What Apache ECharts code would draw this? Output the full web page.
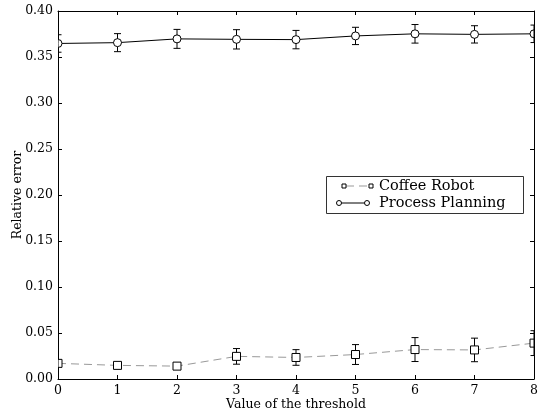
<!DOCTYPE html>
<html>
<head>
<meta charset="utf-8">
<script src="https://cdn.jsdelivr.net/npm/echarts@6/dist/echarts.min.js"></script>
<style>html,body{margin:0;padding:0;background:#fff;}#c{width:541px;height:414px;}</style>
</head>
<body>
<div id="c"></div>
<script>
var thresholds = [0, 1, 2, 3, 4, 5, 6, 7, 8];
var coffeeValues = [0.0170, 0.0148, 0.0140, 0.0246, 0.0234, 0.0266, 0.0320, 0.0316, 0.0390];
var coffeeErrors = [0.0010, 0.0010, 0.0010, 0.0085, 0.0085, 0.0108, 0.0130, 0.0128, 0.0135];
var processValues = [0.3647, 0.3656, 0.3697, 0.3692, 0.3689, 0.3729, 0.3752, 0.3746, 0.3752];
var processErrors = [0.0095, 0.0098, 0.0103, 0.0105, 0.0100, 0.0094, 0.0101, 0.0094, 0.0095];
var seriesNames = ['Coffee Robot', 'Process Planning'];
var yTicks = [0, 0.05, 0.10, 0.15, 0.20, 0.25, 0.30, 0.35, 0.40];

var FONT = 'DejaVu Serif';
var chart = echarts.init(document.getElementById('c'), null, {renderer: 'canvas'});

function pairs(vals) { return thresholds.map(function (x, i) { return [x, vals[i]]; }); }
function triples(vals, errs) { return thresholds.map(function (x, i) { return [x, vals[i], errs[i]]; }); }

function makeRender(shape) {
  return function (params, api) {
    var cs = params.coordSys;
    var L = cs.x, R = cs.x + cs.width;
    var x = api.value(0), v = api.value(1), e = api.value(2);
    var c = api.coord([x, v]);
    var lo = api.coord([x, v - e]);
    var hi = api.coord([x, v + e]);
    var cap = 3.5, s = 4;
    var stroke = {stroke: '#000', lineWidth: 1};
    var cl = Math.max(L, c[0] - cap), cr = Math.min(R, c[0] + cap);
    var children = [
      {type: 'line', shape: {x1: c[0], y1: lo[1], x2: c[0], y2: hi[1]}, style: stroke},
      {type: 'line', shape: {x1: cl, y1: lo[1], x2: cr, y2: lo[1]}, style: stroke},
      {type: 'line', shape: {x1: cl, y1: hi[1], x2: cr, y2: hi[1]}, style: stroke}
    ];
    var mstyle = {fill: '#fff', stroke: '#000', lineWidth: 1};
    if (shape === 'rect') {
      var x0 = Math.max(L, c[0] - s), x1 = Math.min(R, c[0] + s);
      children.push({type: 'rect', shape: {x: x0, y: c[1] - s, width: x1 - x0, height: 2 * s}, style: mstyle});
    } else {
      if (c[0] - s < L) {
        children.push({type: 'sector', shape: {cx: c[0], cy: c[1], r0: 0, r: s, startAngle: -Math.PI / 2, endAngle: Math.PI / 2, clockwise: true}, style: mstyle});
      } else if (c[0] + s > R) {
        children.push({type: 'sector', shape: {cx: c[0], cy: c[1], r0: 0, r: s, startAngle: Math.PI / 2, endAngle: Math.PI * 1.5, clockwise: true}, style: mstyle});
      } else {
        children.push({type: 'circle', shape: {cx: c[0], cy: c[1], r: s}, style: mstyle});
      }
    }
    return {type: 'group', children: children};
  };
}

var axisCommon = {
  axisLine: {show: true, onZero: false, lineStyle: {color: '#000', width: 1}},
  axisTick: {show: true, inside: true, length: 4, lineStyle: {color: '#000'}},
  splitLine: {show: false}
};

// legend drawn as graphic (box, sample lines, markers, real text)
var legendGraphic = [
  {type: 'rect', shape: {x: 326.5, y: 176.5, width: 197, height: 37}, style: {fill: '#fff', stroke: '#333', lineWidth: 1}, z: 50},
  {type: 'line', shape: {x1: 346, y1: 186, x2: 369, y2: 186}, style: {stroke: '#999', lineWidth: 1, lineDash: [8, 5]}, z: 51},
  {type: 'rect', shape: {x: 342, y: 184, width: 4, height: 4}, style: {fill: '#fff', stroke: '#000', lineWidth: 1}, z: 52},
  {type: 'rect', shape: {x: 369, y: 184, width: 4, height: 4}, style: {fill: '#fff', stroke: '#000', lineWidth: 1}, z: 52},
  {type: 'text', x: 379, y: 186, style: {text: seriesNames[0], fontFamily: FONT, fontSize: 14.5, fill: '#000', verticalAlign: 'middle'}, z: 52},
  {type: 'line', shape: {x1: 339, y1: 203, x2: 367, y2: 203}, style: {stroke: '#000', lineWidth: 1}, z: 51},
  {type: 'circle', shape: {cx: 339, cy: 203, r: 2.5}, style: {fill: '#fff', stroke: '#000', lineWidth: 1}, z: 52},
  {type: 'circle', shape: {cx: 367, cy: 203, r: 2.5}, style: {fill: '#fff', stroke: '#000', lineWidth: 1}, z: 52},
  {type: 'text', x: 379, y: 203, style: {text: seriesNames[1], fontFamily: FONT, fontSize: 14.5, fill: '#000', verticalAlign: 'middle'}, z: 52}
];

var option = {
  animation: false,
  backgroundColor: '#fff',
  textStyle: {fontFamily: FONT},
  grid: {left: 58, right: 7, top: 11, bottom: 35, containLabel: false, outerBoundsMode: 'none'},
  graphic: legendGraphic,
  xAxis: [
    Object.assign({
      type: 'value', min: 0, max: 8, interval: 1,
      name: 'Value of the threshold', nameLocation: 'middle', nameGap: 19, nameMoveOverlap: false,
      nameTextStyle: {fontFamily: FONT, fontSize: 12.5, color: '#000'},
      axisLabel: {fontFamily: FONT, fontSize: 12.5, color: '#000', margin: 5}
    }, axisCommon),
    Object.assign({
      type: 'value', min: 0, max: 8, interval: 1, position: 'top',
      axisLabel: {show: false}
    }, axisCommon)
  ],
  yAxis: [
    Object.assign({
      type: 'value', min: yTicks[0], max: yTicks[yTicks.length - 1], interval: 0.05,
      name: 'Relative error', nameLocation: 'middle', nameGap: 34, nameRotate: 90, nameMoveOverlap: false,
      nameTextStyle: {fontFamily: FONT, fontSize: 12.5, color: '#000'},
      axisLabel: {fontFamily: FONT, fontSize: 12.5, color: '#000', margin: 5,
        formatter: function (v) { return v.toFixed(2); }}
    }, axisCommon),
    Object.assign({
      type: 'value', min: yTicks[0], max: yTicks[yTicks.length - 1], interval: 0.05, position: 'right',
      axisLabel: {show: false}
    }, axisCommon)
  ],
  series: [
    {
      name: seriesNames[0], type: 'line', data: pairs(coffeeValues),
      showSymbol: false,
      lineStyle: {color: '#999', width: 1, type: [8, 5]},
      clip: true, z: 2
    },
    {
      name: seriesNames[1], type: 'line', data: pairs(processValues),
      showSymbol: false,
      lineStyle: {color: '#000', width: 1},
      clip: true, z: 2
    },
    {
      name: seriesNames[0] + ' error', type: 'custom', data: triples(coffeeValues, coffeeErrors),
      renderItem: makeRender('rect'), clip: true, z: 3,
      encode: {x: 0, y: 1}
    },
    {
      name: seriesNames[1] + ' error', type: 'custom', data: triples(processValues, processErrors),
      renderItem: makeRender('circle'), clip: true, z: 3,
      encode: {x: 0, y: 1}
    }
  ]
};
chart.setOption(option);
</script>
</body>
</html>
